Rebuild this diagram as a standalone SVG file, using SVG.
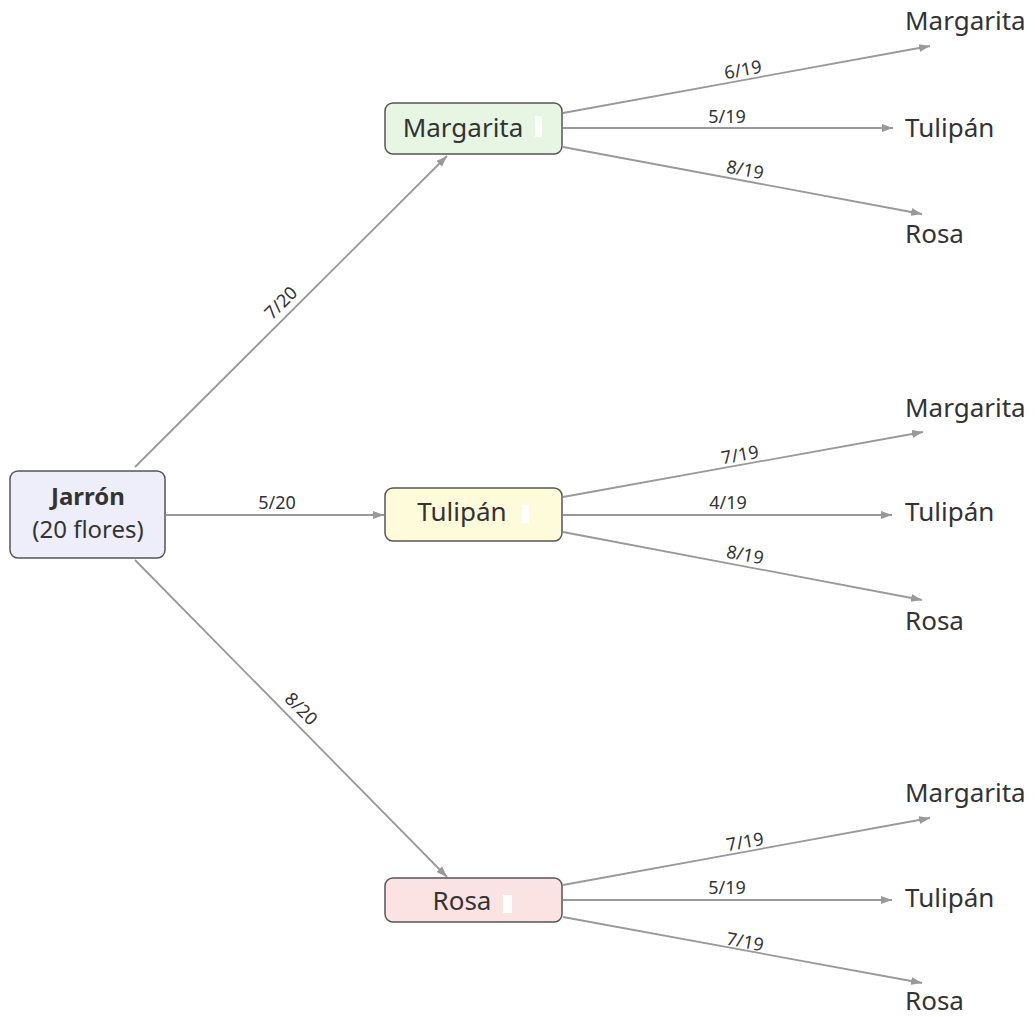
<svg xmlns="http://www.w3.org/2000/svg" width="1035" height="1017" viewBox="0 0 1035 1017">
<style>
.node{stroke:#555;stroke-width:1.5}
.t{font-family:"Noto Sans","Open Sans",sans-serif;fill:#333;font-size:26px}
.r{font-family:"Noto Sans","Open Sans",sans-serif;fill:#333;font-size:24px;text-anchor:middle}
.lbl{font-family:"Noto Sans","Open Sans",sans-serif;fill:#333;font-size:18px;text-anchor:middle}
.e{stroke:#999;stroke-width:1.8;fill:none;marker-end:url(#ah)}
.blank{fill:#fff}
</style>
<defs>
<marker id="ah" markerUnits="userSpaceOnUse" markerWidth="11" markerHeight="8" refX="11" refY="4" orient="auto">
<path d="M0,0 L11,4 L0,8 z" fill="#999"/>
</marker>
</defs>
<rect width="1035" height="1017" fill="#fff"/>
<g id="connectors">
<line class="e" x1="135" y1="467" x2="447" y2="156"/>
<line class="e" x1="166" y1="515" x2="384" y2="515"/>
<line class="e" x1="135" y1="560" x2="447" y2="877"/>
<line class="e" x1="563" y1="113" x2="930" y2="46"/>
<line class="e" x1="563" y1="128" x2="893" y2="128"/>
<line class="e" x1="563" y1="147" x2="922" y2="214"/>
<line class="e" x1="563" y1="497" x2="923" y2="432"/>
<line class="e" x1="563" y1="515" x2="892" y2="515"/>
<line class="e" x1="563" y1="532" x2="922" y2="600"/>
<line class="e" x1="563" y1="885" x2="930" y2="818"/>
<line class="e" x1="563" y1="900" x2="892" y2="900"/>
<line class="e" x1="563" y1="917" x2="922" y2="983"/>
<text class="lbl" transform="translate(281,303) rotate(-45)" y="6">7/20</text>
<text class="lbl" transform="translate(277,503)" y="6">5/20</text>
<text class="lbl" transform="translate(301,709) rotate(45)" y="6">8/20</text>
<text class="lbl" transform="translate(743,70) rotate(-10.4)" y="6">6/19</text>
<text class="lbl" transform="translate(727,117)" y="6">5/19</text>
<text class="lbl" transform="translate(745,170) rotate(10.5)" y="6">8/19</text>
<text class="lbl" transform="translate(740,455) rotate(-10.2)" y="6">7/19</text>
<text class="lbl" transform="translate(728,503)" y="6">4/19</text>
<text class="lbl" transform="translate(745,555) rotate(10.7)" y="6">8/19</text>
<text class="lbl" transform="translate(745,842) rotate(-10.3)" y="6">7/19</text>
<text class="lbl" transform="translate(727,888)" y="6">5/19</text>
<text class="lbl" transform="translate(745,942) rotate(10.4)" y="6">7/19</text>
</g>
<g id="root">
<rect class="node" x="10" y="471" width="155" height="87" rx="8" fill="#eeeefa"/>
<text class="r" x="88" y="505" font-weight="bold">Jarrón</text>
<text class="r" x="88" y="538">(20 flores)</text>
</g>
<g id="n-margarita">
<rect class="node" x="385" y="103" width="177" height="51" rx="8" fill="#e6f6e3"/>
<text class="t" x="463" y="137" text-anchor="middle">Margarita</text>
<rect class="blank" x="535" y="116" width="7" height="21"/>
</g>
<g id="n-tulipan">
<rect class="node" x="385" y="488" width="177" height="53" rx="8" fill="#fdfbda"/>
<text class="t" x="462" y="521" text-anchor="middle">Tulipán</text>
<rect class="blank" x="522" y="505" width="7" height="18"/>
</g>
<g id="n-rosa">
<rect class="node" x="385" y="878" width="177" height="44" rx="8" fill="#fbe3e3"/>
<text class="t" x="462" y="910" text-anchor="middle">Rosa</text>
<rect class="blank" x="503" y="895" width="9" height="18"/>
</g>
<g id="leaves-1">
<text class="t" x="905" y="30">Margarita</text>
<text class="t" x="905" y="137">Tulipán</text>
<text class="t" x="905" y="243">Rosa</text>
</g>
<g id="leaves-2">
<text class="t" x="905" y="417">Margarita</text>
<text class="t" x="905" y="521">Tulipán</text>
<text class="t" x="905" y="630">Rosa</text>
</g>
<g id="leaves-3">
<text class="t" x="905" y="802">Margarita</text>
<text class="t" x="905" y="907">Tulipán</text>
<text class="t" x="905" y="1010">Rosa</text>
</g>
</svg>
